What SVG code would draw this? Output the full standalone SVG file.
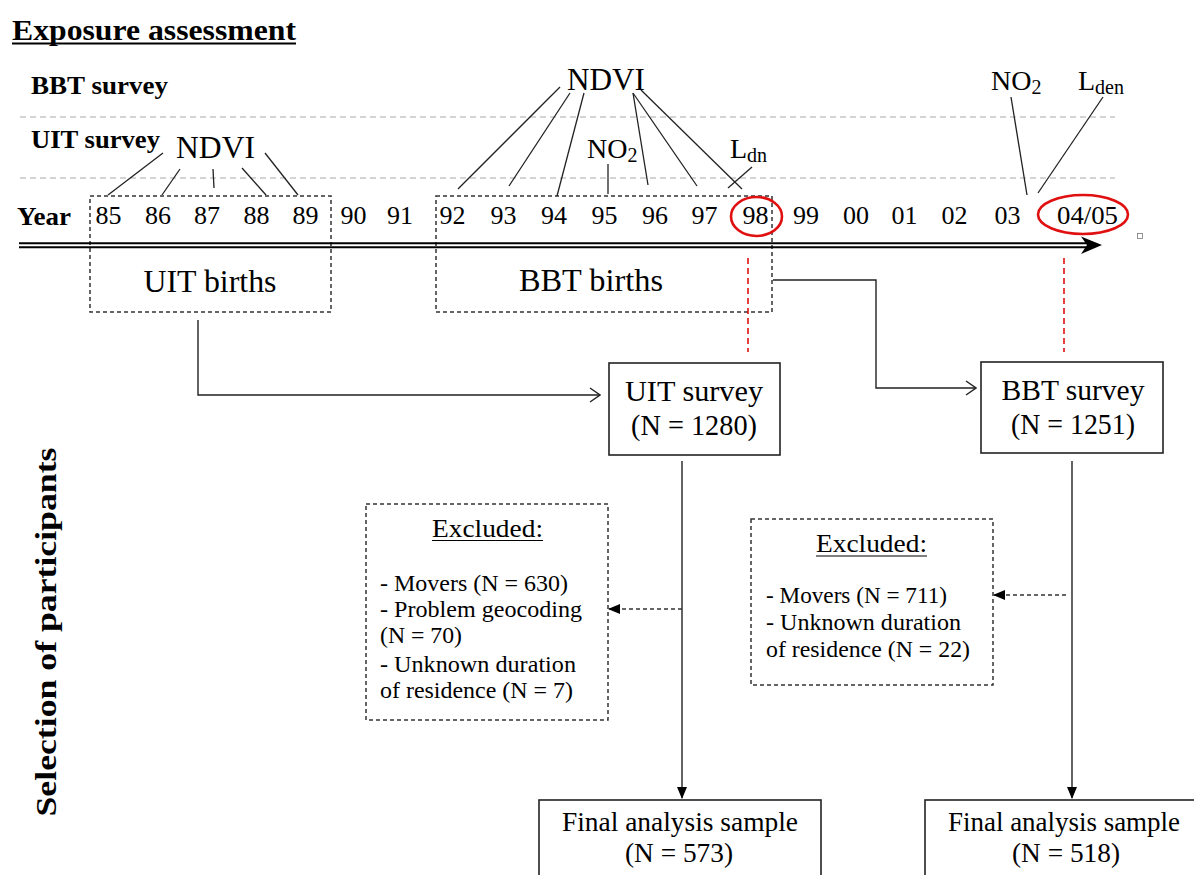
<svg xmlns="http://www.w3.org/2000/svg" width="1194" height="875" viewBox="0 0 1194 875" font-family="Liberation Serif, Times New Roman, serif">
<style>
.t{fill:#000}
.b{font-weight:bold}
.c{text-anchor:middle}
.yr{font-size:26px;text-anchor:middle}
.ex{font-size:23.5px}
.ln{stroke:#222;stroke-width:1.3;fill:none}
.gd{stroke:#aaa;stroke-width:1.2;stroke-dasharray:6 4;fill:none}
.db{stroke:#333;stroke-width:1.5;stroke-dasharray:4 3;fill:none}
.box{stroke:#222;stroke-width:1.6;fill:#fff}
.red{stroke:#e01010;stroke-width:2.6;fill:none}
.rd{stroke:#e01010;stroke-width:1.6;stroke-dasharray:6 4;fill:none}
.cn{stroke:#222;stroke-width:1.4;fill:none}
</style>
<defs>
<marker id="fill" markerWidth="12" markerHeight="10" refX="11" refY="5" orient="auto" markerUnits="userSpaceOnUse">
<path d="M0,0 L12,5 L0,10 Z" fill="#000"/>
</marker>
<marker id="open" markerWidth="12" markerHeight="16" refX="11" refY="8" orient="auto" markerUnits="userSpaceOnUse">
<path d="M1,1 L11,8 L1,15" fill="none" stroke="#222" stroke-width="1.4"/>
</marker>
</defs>

<rect width="1194" height="875" fill="#fff"/>

<g id="headers">
<text class="t b" x="12" y="40" font-size="29" textLength="284" lengthAdjust="spacingAndGlyphs">Exposure assessment</text>
<line x1="12" y1="43.5" x2="296" y2="43.5" stroke="#000" stroke-width="2"/>
<text class="t b" x="31" y="94" font-size="26" textLength="137" lengthAdjust="spacingAndGlyphs">BBT survey</text>
<text class="t b" x="31" y="148" font-size="26" textLength="129" lengthAdjust="spacingAndGlyphs">UIT survey</text>
<text class="t b" x="17" y="225" font-size="26" textLength="54" lengthAdjust="spacingAndGlyphs">Year</text>
<text class="t b" font-size="29" text-anchor="middle" transform="translate(56,632) rotate(-90)" textLength="369" lengthAdjust="spacingAndGlyphs">Selection of participants</text>
</g>

<g id="gridlines">
<line class="gd" x1="20" y1="117" x2="1115" y2="117"/>
<line class="gd" x1="20" y1="178" x2="1115" y2="178"/>
</g>

<g id="uit-births">
<rect class="db" x="90" y="196" width="241" height="116"/>
<text class="t c" x="210" y="292" font-size="31" textLength="133" lengthAdjust="spacingAndGlyphs">UIT births</text>
</g>
<g id="bbt-births">
<rect class="db" x="436" y="196" width="336" height="116"/>
<text class="t c" x="591" y="291" font-size="31" textLength="144" lengthAdjust="spacingAndGlyphs">BBT births</text>
</g>

<g id="timeline">
<line x1="19" y1="243.3" x2="1090" y2="243.3" stroke="#000" stroke-width="2"/>
<line x1="19" y1="247.3" x2="1090" y2="247.3" stroke="#000" stroke-width="2"/>
<path d="M1102,245 L1081,236.5 L1087,245 L1081,254 Z" fill="#000"/>
<rect x="1137.5" y="233.5" width="5" height="5" fill="none" stroke="#777" stroke-width="0.8"/>
<g class="t yr">
<text x="108.5" y="224">85</text>
<text x="158" y="224">86</text>
<text x="207" y="224">87</text>
<text x="256.5" y="224">88</text>
<text x="305.5" y="224">89</text>
<text x="353.5" y="224">90</text>
<text x="400" y="224">91</text>
<text x="452.5" y="224">92</text>
<text x="503.5" y="224">93</text>
<text x="554" y="224">94</text>
<text x="604.5" y="224">95</text>
<text x="655" y="224">96</text>
<text x="704.5" y="224">97</text>
<text x="755.5" y="224">98</text>
<text x="806" y="224">99</text>
<text x="856" y="224">00</text>
<text x="904.5" y="224">01</text>
<text x="954.5" y="224">02</text>
<text x="1007.5" y="224">03</text>
<text x="1087.5" y="224" textLength="61" lengthAdjust="spacingAndGlyphs">04/05</text>
</g>
<ellipse class="red" cx="756.5" cy="216.5" rx="25.5" ry="19.5"/>
<ellipse class="red" cx="1083" cy="214.5" rx="45" ry="19.5"/>
</g>

<g id="exposure-labels">
<text class="t" x="176" y="158" font-size="31" textLength="79" lengthAdjust="spacingAndGlyphs">NDVI</text>
<text class="t" x="567" y="90" font-size="31" textLength="78" lengthAdjust="spacingAndGlyphs">NDVI</text>
<text class="t" x="587" y="158" font-size="28">NO<tspan font-size="20" dy="4">2</tspan></text>
<text class="t" x="730" y="158" font-size="28">L<tspan font-size="20" dy="4">dn</tspan></text>
<text class="t" x="991" y="90" font-size="28">NO<tspan font-size="20" dy="4">2</tspan></text>
<text class="t" x="1078" y="90" font-size="28">L<tspan font-size="20" dy="4">den</tspan></text>
</g>

<g id="connectors">
<line class="ln" x1="163" y1="153" x2="108" y2="195"/>
<line class="ln" x1="180" y1="169" x2="162" y2="195"/>
<line class="ln" x1="213" y1="169" x2="214" y2="188"/>
<line class="ln" x1="242" y1="168" x2="266" y2="195"/>
<line class="ln" x1="265" y1="153" x2="298" y2="195"/>
<line class="ln" x1="560" y1="87" x2="458" y2="189"/>
<line class="ln" x1="570" y1="93" x2="509" y2="186"/>
<line class="ln" x1="584" y1="93" x2="557" y2="196"/>
<line class="ln" x1="633" y1="93" x2="648" y2="185"/>
<line class="ln" x1="633" y1="93" x2="697" y2="186"/>
<line class="ln" x1="641" y1="90" x2="742" y2="189"/>
<line class="ln" x1="608" y1="164" x2="608" y2="194"/>
<line class="ln" x1="752" y1="167" x2="728" y2="188"/>
<line class="ln" x1="1011" y1="97" x2="1027" y2="195"/>
<line class="ln" x1="1103" y1="97" x2="1038" y2="193"/>
<line class="rd" x1="748" y1="258" x2="748" y2="352"/>
<line class="rd" x1="1064" y1="258" x2="1064" y2="352"/>
<path class="cn" d="M198,320 L198,395 L600,395" marker-end="url(#open)"/>
<path class="cn" d="M773,280 L876,280 L876,388 L976,388" marker-end="url(#open)"/>
<line class="cn" x1="682" y1="461" x2="682" y2="798" stroke-width="1.8" marker-end="url(#fill)"/>
<line class="cn" x1="1072" y1="461" x2="1072" y2="798" stroke-width="1.8" marker-end="url(#fill)"/>
<line class="db" x1="682" y1="609" x2="609" y2="609" marker-end="url(#fill)"/>
<line class="db" x1="1066" y1="595" x2="994" y2="595" marker-end="url(#fill)"/>
</g>

<g id="uit-survey">
<rect class="box" x="609" y="363" width="171" height="92"/>
<text class="t c" x="694" y="401" font-size="29" textLength="138" lengthAdjust="spacingAndGlyphs">UIT survey</text>
<text class="t c" x="694" y="435" font-size="29" textLength="126" lengthAdjust="spacingAndGlyphs">(N = 1280)</text>
</g>

<g id="bbt-survey">
<rect class="box" x="981" y="362" width="182" height="91"/>
<text class="t c" x="1073" y="400" font-size="29" textLength="143" lengthAdjust="spacingAndGlyphs">BBT survey</text>
<text class="t c" x="1073" y="434" font-size="29" textLength="124" lengthAdjust="spacingAndGlyphs">(N = 1251)</text>
</g>

<g id="excluded-uit">
<rect class="db" x="366" y="504" width="242" height="216"/>
<text class="t c" x="487.5" y="537" font-size="25" textLength="111" lengthAdjust="spacingAndGlyphs">Excluded:</text>
<line x1="432" y1="540.5" x2="543" y2="540.5" stroke="#000" stroke-width="1.2"/>
<text class="t ex" x="380" y="591" textLength="188" lengthAdjust="spacingAndGlyphs">- Movers (N = 630)</text>
<text class="t ex" x="380" y="617" textLength="202" lengthAdjust="spacingAndGlyphs">- Problem geocoding</text>
<text class="t ex" x="380" y="643" textLength="82" lengthAdjust="spacingAndGlyphs">(N = 70)</text>
<text class="t ex" x="380" y="672" textLength="196" lengthAdjust="spacingAndGlyphs">- Unknown duration</text>
<text class="t ex" x="380" y="698" textLength="193" lengthAdjust="spacingAndGlyphs">of residence (N = 7)</text>
</g>

<g id="excluded-bbt">
<rect class="db" x="751" y="519" width="242" height="166"/>
<text class="t c" x="871.5" y="552" font-size="25" textLength="111" lengthAdjust="spacingAndGlyphs">Excluded:</text>
<line x1="816" y1="556" x2="927" y2="556" stroke="#000" stroke-width="1.2"/>
<text class="t ex" x="766" y="603" textLength="181" lengthAdjust="spacingAndGlyphs">- Movers (N = 711)</text>
<text class="t ex" x="766" y="630" textLength="195" lengthAdjust="spacingAndGlyphs">- Unknown duration</text>
<text class="t ex" x="766" y="657" textLength="204" lengthAdjust="spacingAndGlyphs">of residence (N = 22)</text>
</g>

<g id="final-uit">
<rect class="box" x="539" y="800" width="282" height="90"/>
<text class="t c" x="680" y="831" font-size="27" textLength="236" lengthAdjust="spacingAndGlyphs">Final analysis sample</text>
<text class="t c" x="679" y="862" font-size="27" textLength="108" lengthAdjust="spacingAndGlyphs">(N = 573)</text>
</g>

<g id="final-bbt">
<rect class="box" x="925" y="800" width="282" height="90"/>
<text class="t c" x="1064" y="831" font-size="27" textLength="232" lengthAdjust="spacingAndGlyphs">Final analysis sample</text>
<text class="t c" x="1066" y="862" font-size="27" textLength="108" lengthAdjust="spacingAndGlyphs">(N = 518)</text>
</g>
</svg>
